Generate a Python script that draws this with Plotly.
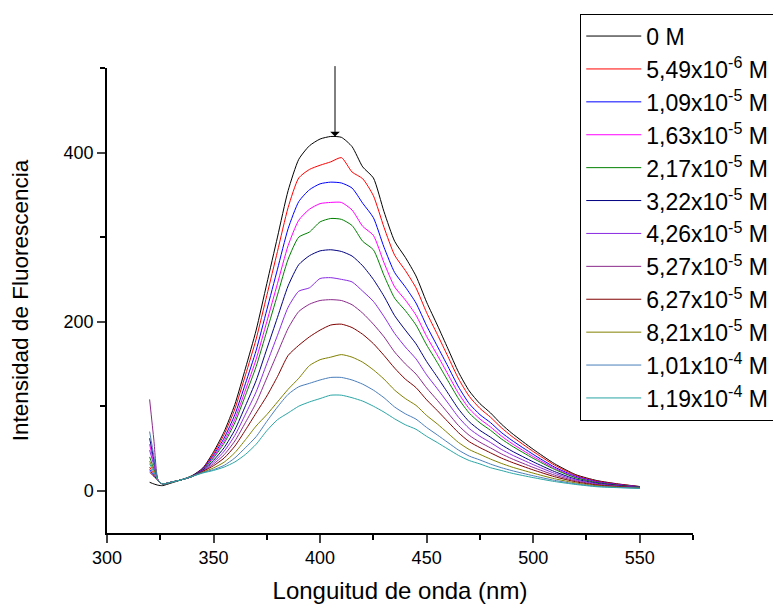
import plotly.graph_objects as go

# Emission wavelength (nm)
wavelength = [320, 322, 324, 326, 330, 335, 340, 345, 350, 355, 360, 365, 370, 375, 380,
              385, 390, 395, 400, 405, 410, 415, 420, 425, 430, 435, 440, 445, 450, 455,
              460, 465, 470, 475, 480, 485, 490, 500, 510, 520, 530, 540, 550]

# Fluorescence intensity for each quencher concentration
i_0 = [10, 8, 6.5, 6, 9, 13, 18, 27, 46, 70, 102, 145, 190, 245, 300, 355, 392, 408, 416, 419,
       418, 407, 383, 370, 330, 295, 276, 254, 223, 196, 168, 140, 118, 103, 92, 79, 68, 49,
       32, 19, 12, 8, 5]
i_549e6 = [28, 20, 12, 8, 10, 13, 17, 26.5, 44, 66.6, 96.7, 137, 179.5, 231, 283, 335, 370, 380,
           385, 389, 394, 377, 369, 349, 311.5, 278.5, 260.5, 240, 210.6, 185, 158.7, 132.3,
           111.6, 97.4, 86.9, 74.7, 64.3, 46.4, 30.3, 18.1, 11.4, 7.7, 4.8]
i_109e5 = [25, 18, 12, 8, 10, 13, 17, 26, 42, 62.4, 90, 127, 166, 214, 262, 310, 342, 356, 363,
           365, 364, 358, 340, 323, 288, 258, 241, 222, 195, 171, 147, 122.6, 103, 90, 80.5, 69,
           59.6, 43, 28, 17, 10.7, 7.2, 4.6]
i_163e5 = [55, 33, 12, 8, 10, 13, 17, 25.5, 40.2, 59, 84.7, 119.3, 155.6, 200, 245, 290, 320, 333,
           339.6, 341, 341, 332, 312.7, 302, 269.6, 241, 225.6, 207.7, 182.5, 160.5, 137.7, 115,
           97, 84.8, 75.4, 64.9, 55.9, 40.4, 26.6, 16, 10.1, 6.9, 4.4]
i_217e5 = [40, 26, 12, 8, 10, 13, 17, 25, 38.8, 56.3, 80.4, 113, 147, 189, 231.6, 273.8, 300, 306,
           318, 322, 321, 313.7, 295, 285, 254.6, 227.7, 213, 196, 172.4, 151.7, 130, 108.7,
           91.8, 80.3, 71.4, 61.4, 53, 38.3, 25.3, 15.3, 9.7, 6.6, 4.3]
i_322e5 = [62, 37, 12, 8, 10, 13, 17, 24.4, 36, 51, 72, 100.6, 130.4, 167.7, 205, 242.3, 267.4,
           278, 283.7, 285, 283, 277.6, 266, 250, 230, 207, 190, 173.8, 152.8, 134.5,
           115.5, 96.5, 81.6, 71.4, 63.3, 54.5, 47, 34.2, 22.7, 13.8, 8.8, 6, 4]
i_426e5 = [48, 30, 12, 8, 10, 13, 17, 23.8, 33.8, 46.8, 65.4, 90.6, 117, 150.4, 183.8, 217, 236,
           240, 251, 252, 250, 247, 236, 224, 206, 186, 170, 156, 137, 120.7, 103.8, 86.8,
           73.5, 64.4, 57, 49, 42.4, 30.9, 20.6, 12.7, 8.1, 5.6, 3.8]
i_527e5 = [108, 60, 12, 8, 10, 13, 17, 23.3, 31.6, 42.6, 58.8, 80.8, 104, 133.4, 162.8, 192, 212,
           220.6, 225, 226, 225, 220, 210, 197, 182, 164, 150, 138, 121.6, 107, 92, 77, 65.5,
           57.4, 50.6, 43.7, 37.8, 27.6, 18.5, 11.6, 7.4, 5.2, 3.6]
i_627e5 = [22, 17, 12, 8, 10, 13, 17, 22.8, 29.6, 38.7, 52.7, 71.9, 92, 112, 135, 160, 172, 182,
           190, 196, 197, 193, 185, 174, 160, 145, 132, 122, 107.5, 94.8, 81.6, 68.5, 58,
           51, 44.8, 38.7, 33.6, 24.6, 16.6, 10.5, 6.7, 4.8, 3.4]
i_821e5 = [35, 24, 12, 8, 10, 13, 17, 22, 27, 33.8, 45, 60.4, 76.6, 90, 105, 120, 133, 148, 155,
           158, 161, 158, 152, 143, 132, 119, 109, 101, 89, 79, 68, 57, 48.7, 43, 37.4, 32.4,
           28, 20.8, 14.2, 9.2, 5.9, 4.3, 3.2]
i_101e4 = [70, 41, 12, 8, 10, 13, 17, 21.6, 25, 30, 38.8, 51, 64, 82, 99, 114, 123, 127, 131, 134,
           134, 131, 126, 119, 110, 99, 91, 84.7, 74.8, 66, 57, 48, 41, 36.4, 31.5, 27.3,
           23.8, 17.7, 12.3, 8.1, 5.2, 3.9, 3]
i_119e4 = [32, 22, 12, 8, 10, 13, 17, 21, 24, 28, 34, 43, 55, 71, 84, 92, 100, 105, 109, 113, 113,
           110, 106, 100, 93, 85, 78, 72.7, 64.3, 57, 49.3, 41.7, 35.7, 31.7, 27.2, 24, 20.7,
           15.5, 10.9, 7.4, 4.7, 3.6, 2.8]

labels = ["0 M", "5,49x10<sup>-6</sup> M", "1,09x10<sup>-5</sup> M", "1,63x10<sup>-5</sup> M",
          "2,17x10<sup>-5</sup> M", "3,22x10<sup>-5</sup> M", "4,26x10<sup>-5</sup> M",
          "5,27x10<sup>-5</sup> M", "6,27x10<sup>-5</sup> M", "8,21x10<sup>-5</sup> M",
          "1,01x10<sup>-4</sup> M", "1,19x10<sup>-4</sup> M"]
series = [i_0, i_549e6, i_109e5, i_163e5, i_217e5, i_322e5, i_426e5, i_527e5, i_627e5,
          i_821e5, i_101e4, i_119e4]
colors = ["#000000", "#FF0000", "#0000FF", "#FF00FF", "#008000", "#000080", "#8A2BE2",
          "#8B2A8B", "#800000", "#808000", "#4A7EBB", "#2AA5A5"]

fig = go.Figure()
for name, ys, col in zip(labels, series, colors):
    fig.add_trace(go.Scatter(x=wavelength, y=ys, mode="lines", name=name,
                             line=dict(color=col, width=1, shape="spline", smoothing=0.6)))

# Arrow marking the decrease of the emission maximum
peak = max(i_0)
arrow_x = 407
fig.add_annotation(x=arrow_x, y=peak, ax=arrow_x, ay=504, xref="x", yref="y",
                   axref="x", ayref="y", text="", showarrow=True, arrowhead=1,
                   arrowsize=1.6, arrowwidth=1, arrowcolor="black", standoff=0)

font_family = "Arial, Liberation Sans, sans-serif"
fig.update_layout(
    width=773, height=606,
    margin=dict(l=107, r=80, t=68, b=73, autoexpand=False),
    plot_bgcolor="white", paper_bgcolor="white",
    font=dict(family=font_family, color="black"),
    showlegend=True,
    legend=dict(x=0.8076, y=1.117, xanchor="left", yanchor="top",
                bordercolor="black", borderwidth=1, bgcolor="white",
                font=dict(size=23, family=font_family), itemwidth=55,
                tracegroupgap=0, maxheight=600),
)
fig.update_xaxes(range=[300, 575], tick0=0, dtick=50, ticks="outside", ticklen=8,
                 tickwidth=1.5, showline=True, linewidth=1.5, linecolor="black",
                 showgrid=False, zeroline=False, tickfont=dict(size=18),
                 minor=dict(dtick=25, ticks="outside", ticklen=5, tickwidth=1.5,
                            tickcolor="black", showgrid=False),
                 title=dict(text="Longuitud de onda (nm)", font=dict(size=24), standoff=15))
fig.update_yaxes(range=[-50, 500], tick0=0, dtick=200, ticks="outside", ticklen=8,
                 tickwidth=1.5, showline=True, linewidth=1.5, linecolor="black",
                 showgrid=False, zeroline=False, tickfont=dict(size=18),
                 minor=dict(dtick=100, ticks="outside", ticklen=5, tickwidth=1.5,
                            tickcolor="black", showgrid=False),
                 title=dict(text="Intensidad de Fluorescencia", font=dict(size=22.5),
                            standoff=29))

fig.write_html("out.html", config={"displayModeBar": False})
